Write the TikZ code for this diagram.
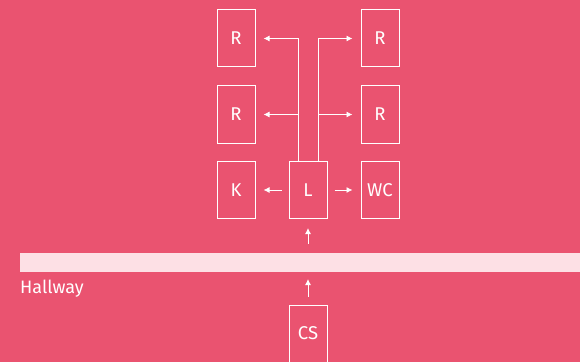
\documentclass[tikz,border=0pt]{standalone}
\usepackage{fontspec}
\setmainfont{Fira Sans}
\usetikzlibrary{arrows.meta}
\definecolor{bg}{HTML}{EA5370}
\definecolor{bar}{HTML}{FDE0E5}
\tikzset{
  x=1pt,y=1pt,
  room/.style={draw=white,line width=1pt,minimum width=38pt,minimum height=57pt,inner sep=0pt,text=white,font=\fontsize{18.5}{18.5}\selectfont},
  arr/.style={draw=white,line width=0.9pt,-{Latex[length=6pt,width=6pt]}},
}
\begin{document}
\begin{tikzpicture}
\fill[bg] (0,0) rectangle (580,362);
\useasboundingbox (0,0) rectangle (580,362);
\node[room] (R1) at (236,323.5) {R};
\node[room] (R2) at (380,323.5) {R};
\node[room] (R3) at (236,247.5) {R};
\node[room] (R4) at (380,247.5) {R};
\node[room] (K) at (236,172) {K};
\node[room] (L) at (308,172) {L};
\node[room] (WC) at (380,172) {WC};
\node[room] (CS) at (308,28.5) {CS};
\node[fill=bar,minimum width=560pt,minimum height=19pt,inner sep=0pt,anchor=south west] (hall) at (20,90) {};
\node[anchor=base west,inner sep=0pt,text=white,font=\fontsize{18}{18}\selectfont] (hl) at (20,69) {Hallway};
\coordinate (lb) at ([xshift=-10pt]L.north);
\coordinate (rb) at ([xshift=10pt]L.north);
\draw[arr,shorten >=8pt] (lb) |- (R1.east);
\draw[arr,shorten >=8pt] (rb) |- (R2.west);
\draw[arr,shorten >=8pt] (lb |- R3) -- (R3.east);
\draw[arr,shorten >=8pt] (rb |- R4) -- (R4.west);
\draw[arr,shorten <=7pt,shorten >=8pt] (L.west) -- (K.east);
\draw[arr,shorten <=7pt,shorten >=8pt] (L.east) -- (WC.west);
\draw[arr,shorten <=9pt,shorten >=9pt] (hall.north -| L) -- (L.south);
\draw[arr,shorten <=8pt,shorten >=7pt] (CS.north) -- (hall.south -| CS);
\end{tikzpicture}
\end{document}
